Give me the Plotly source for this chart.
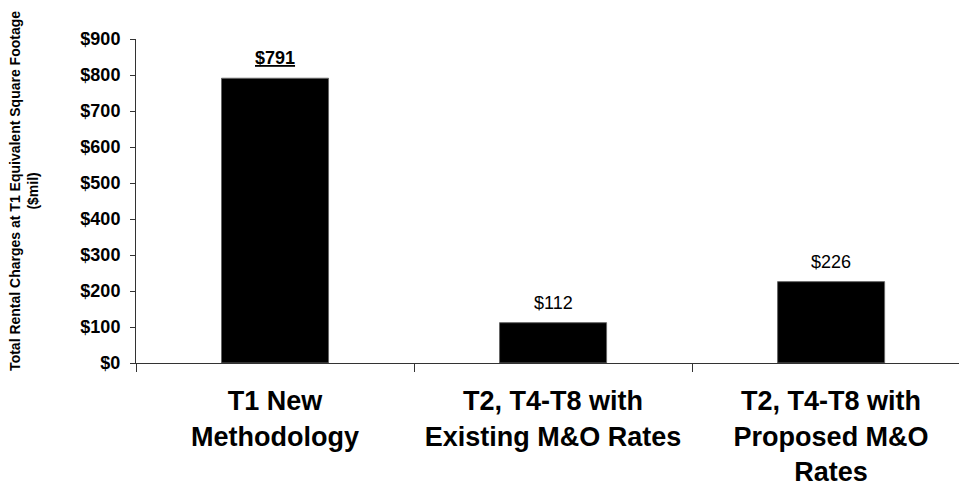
import plotly.graph_objects as go

# Rental charge scenarios ($ millions)
categories = [
    "T1 New<br>Methodology",
    "T2, T4-T8 with<br>Existing M&O Rates",
    "T2, T4-T8 with<br>Proposed M&O<br>Rates",
]
values = [791, 112, 226]
value_labels = ["<b><u>$791</u></b>", "$112", "$226"]
y_ticks = [0, 100, 200, 300, 400, 500, 600, 700, 800, 900]
y_tick_text = ["$" + str(v) for v in y_ticks]

FONT = "Liberation Sans, Arial, Helvetica, sans-serif"

fig = go.Figure()
fig.add_trace(go.Bar(
    x=categories,
    y=values,
    width=0.385,
    marker=dict(color="#000000", line=dict(color="#666666", width=1)),
    hoverinfo="skip",
))

# value labels above each bar
for cat, v, lab in zip(categories, values, value_labels):
    fig.add_annotation(
        x=cat, y=v, xref="x", yref="y",
        text=lab, showarrow=False,
        yanchor="bottom", yshift=8,
        font=dict(family=FONT, size=18, color="#000000"),
    )

# rotated y-axis title
fig.add_annotation(
    xref="paper", yref="paper",
    x=-0.137, y=0.532,
    text="<b>Total Rental Charges at T1 Equivalent Square Footage<br>($mil)</b>",
    textangle=-90, showarrow=False,
    xanchor="center", yanchor="middle",
    font=dict(family=FONT, size=14, color="#000000"),
)

fig.update_layout(
    width=959, height=485,
    margin=dict(l=136, r=0, t=39, b=121.5, pad=0),
    plot_bgcolor="#ffffff", paper_bgcolor="#ffffff",
    showlegend=False,
    font=dict(family=FONT, color="#000000"),
)

fig.update_xaxes(
    range=[-0.5, 2.46], automargin=False,
    showline=True, linecolor="#333333", linewidth=1,
    ticks="outside", tickson="boundaries", ticklen=8, tickcolor="#333333",
    tickfont=dict(family=FONT, size=27, color="#000000", weight="bold"),
    ticklabelstandoff=14,
    showgrid=False, zeroline=False,
)

fig.update_yaxes(
    range=[0, 900], automargin=False,
    tickvals=y_ticks, ticktext=y_tick_text,
    showline=True, linecolor="#333333", linewidth=1,
    ticks="outside", ticklen=5, tickcolor="#333333",
    tickfont=dict(family=FONT, size=18, color="#000000", weight="bold"),
    ticklabelstandoff=6,
    showgrid=False, zeroline=False,
)

fig.write_html("out.html")
